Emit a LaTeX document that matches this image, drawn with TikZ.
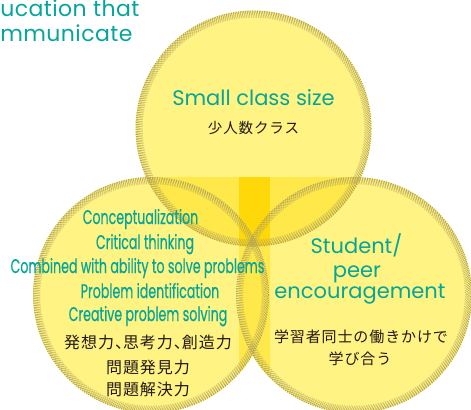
\documentclass[tikz,border=0pt]{standalone}
\usepackage{fontspec}
\newfontfamily\headfont{Poppins}[LetterSpace=2]
\newfontfamily\titlefont{Poppins}
\newfontfamily\narrowfont{Poppins}[FakeStretch=0.64,FakeBold=0.4]
\newfontfamily\jpfont{Noto Sans CJK JP}[LetterSpace=6]

\definecolor{fillA}{HTML}{FFF383}
\definecolor{fillB}{HTML}{FFE84A}
\definecolor{fillC}{HTML}{FFD80A}
\definecolor{dotc}{HTML}{B3A55C}
\definecolor{brandteal}{HTML}{05A69A}
\definecolor{ink}{HTML}{231815}

\tikzset{
  headline/.style={text=brandteal, inner sep=0pt, anchor=base west,
    font=\headfont\fontsize{16.5pt}{18pt}\selectfont},
  titleline/.style={text=brandteal, inner sep=0pt, anchor=base,
    font=\titlefont\fontsize{15.75pt}{18pt}\selectfont},
  skillline/.style={text=brandteal, inner sep=0pt, anchor=base,
    font=\narrowfont\fontsize{14.8pt}{17pt}\selectfont},
  jpline/.style={text=ink, inner sep=0pt, anchor=center,
    font=\jpfont\fontsize{11.25pt}{14pt}\selectfont},
  ringdots/.style={draw=dotc, line width=0.9pt, dash pattern=on 0.9pt off 0.9pt},
}

% halftone border: concentric dotted rings just inside a circle's edge
\newcommand\dotring[2]{%
  \foreach \k in {0,...,5}{%
    \draw[ringdots, dash phase={\k*0.9pt}, opacity={1-0.1*\k}]
      (#1) circle ({#2-0.6-1.2*\k});
  }%
}

\begin{document}
\begin{tikzpicture}[x=0.75pt,y=-0.75pt]
  \useasboundingbox (0,0) rectangle (471,410);

  \coordinate (ctop) at (253.5,128.5);
  \coordinate (cleft) at (151,295);
  \coordinate (cright) at (354,295);
  \def\rad{118}

  % circle fills
  \fill[fillA] (ctop) circle (\rad);
  \fill[fillA] (cleft) circle (\rad);
  \fill[fillA] (cright) circle (\rad);

  % overlap tints
  \begin{scope}
    \clip (239,177) rectangle (270,410);
    \fill[fillB] (cleft) circle (\rad);
    \fill[fillB] (cright) circle (\rad);
  \end{scope}
  \begin{scope}
    \clip (ctop) circle (\rad);
    \fill[fillB] (0,177) rectangle (471,410);
    \fill[fillC] (239,177) rectangle (270,410);
  \end{scope}

  % halftone borders
  \dotring{ctop}{\rad}
  \dotring{cleft}{\rad}
  \dotring{cright}{\rad}

  % heading
  \node[headline] (head1) at (0,17) {ucation that};
  \node[headline] (head2) at (0,42) {mmunicate};

  % top circle
  \node[titleline] (small) at (253.5,105) {Small class size};
  \node[jpline, font=\jpfont\fontsize{10.9pt}{14pt}\selectfont] (smalljp) at (253.5,128) {少人数クラス};

  % left circle
  \node[skillline] (s1) at (140.5,224) {Conceptualization};
  \node[skillline] (s2) at (145,249) {Critical thinking};
  \node[skillline] (s3) at (137.5,273) {Combined with ability to solve problems};
  \node[skillline] (s4) at (150,298) {Problem identification};
  \node[skillline] (s5) at (148,321) {Creative problem solving};
  \node[jpline, font=\jpfont\fontsize{12pt}{14pt}\selectfont] (j1) at (148,342.5) {発想力、\kern-0.5em思考力、\kern-0.5em創造力};
  \node[jpline, font=\jpfont\fontsize{12pt}{14pt}\selectfont] (j2) at (148,367.5) {問題発見力};
  \node[jpline, font=\jpfont\fontsize{12pt}{14pt}\selectfont] (j3) at (148,389) {問題解決力};

  % right circle
  \node[titleline] (peer1) at (356.5,253) {Student/};
  \node[titleline] (peer2) at (357,277) {peer};
  \node[titleline] (peer3) at (360,298) {encouragement};
  \node[jpline] (r1) at (361,336.5) {学習者同士の働きかけで};
  \node[jpline] (r2) at (360,358.5) {学び合う};
\end{tikzpicture}
\end{document}
